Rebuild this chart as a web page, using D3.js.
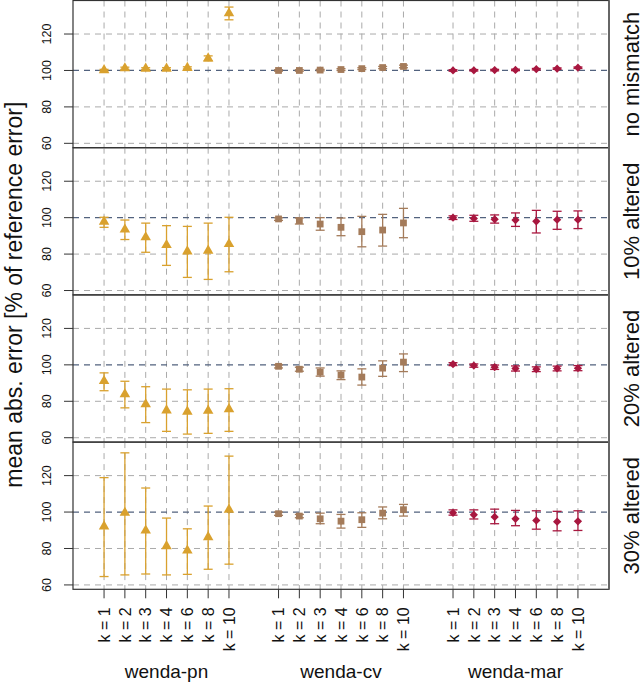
<!DOCTYPE html>
<html>
<head>
<meta charset="utf-8">
<script src="https://d3js.org/d3.v7.min.js"></script>
<style>
  body { margin: 0; background: #fff; }
  text { font-family: "Liberation Sans", Arial, Helvetica, sans-serif; fill: #111; }
</style>
</head>
<body>
<script>
// ---- values (one row per panel, one entry per k) ----
var methods = ["wenda-pn", "wenda-cv", "wenda-mar"]
var kLabels = ["k = 1", "k = 2", "k = 3", "k = 4", "k = 6", "k = 8", "k = 10"]
var panels = ["no mismatch", "10% altered", "20% altered", "30% altered"]
var yTicks = [60, 80, 100, 120]

var pnMean = [[100.2, 101.2, 101, 101, 101.4, 106.6, 131.4],
              [97.8, 93.5, 89.2, 85, 81.5, 81.9, 85.5],
              [91.1, 83.9, 78.4, 75, 74.3, 74.8, 75.7],
              [92.1, 99.6, 89.9, 81.3, 78.9, 86.2, 101.3]]
var pnLo = [[99.8, 100.6, 100.5, 100.5, 100.8, 105.3, 127.8],
            [94.7, 88, 81, 73.8, 67.2, 66.1, 70.3],
            [85.8, 76.4, 68.3, 63.5, 62, 62.4, 63.5],
            [64.6, 65.5, 66, 65.5, 65.8, 68.6, 71.4]]
var pnHi = [[100.6, 101.8, 101.5, 101.5, 102, 108, 134.8],
            [100.2, 98.7, 97, 95.6, 95.2, 97, 100.2],
            [95.6, 91, 88, 86.7, 86.3, 86.7, 86.9],
            [118.9, 132.5, 113.2, 96.7, 90.8, 103.3, 130.7]]

var cvMean = [[100, 100, 100.2, 100.5, 101, 101.6, 102.2],
              [99.3, 98.4, 96.5, 94.7, 92.3, 93.2, 97.1],
              [99.2, 97.6, 96, 94.4, 93.3, 98.2, 101.5],
              [99.1, 97.8, 96.3, 95, 95.8, 99.4, 101.3]]
var cvLo = [[99.6, 99.6, 99.8, 100, 100.5, 101, 101.5],
            [98.5, 96.5, 93.1, 90.1, 84, 84.4, 89],
            [98.3, 96.5, 93.8, 91.9, 88.9, 93.7, 96.3],
            [98.2, 96.9, 93.6, 91.2, 91.6, 96.3, 97.8]]
var cvHi = [[100.4, 100.4, 100.6, 101, 101.5, 102.2, 102.9],
            [100, 99.8, 100, 99.8, 100.7, 101.8, 105.1],
            [100, 98.7, 98.3, 96.7, 97.8, 102.2, 106],
            [100, 98.7, 99.4, 98.7, 99.6, 102.8, 104.2]]

var marMean = [[100, 100.1, 100.2, 100.3, 100.7, 101, 101.5],
               [100, 99.6, 99.1, 98.7, 98, 98.9, 98.9],
               [100.4, 99.6, 98.7, 98, 97.6, 98, 98.2],
               [99.6, 98.5, 97.3, 96.3, 95.4, 94.7, 94.9]]
var marLo = [[99.6, 99.7, 99.8, 99.9, 100.3, 100.6, 101.1],
             [99, 98, 97, 95.2, 91.6, 93.6, 94],
             [99.6, 98.7, 97.5, 96.6, 96.3, 96.7, 96.8],
             [98.3, 96.2, 93.6, 92.5, 90.6, 89.7, 89.9]]
var marHi = [[100.4, 100.5, 100.6, 100.7, 101.1, 101.4, 101.9],
             [101, 101.3, 101.5, 102.6, 104, 103.5, 103.7],
             [101.2, 100.5, 99.9, 99.4, 98.9, 99.3, 99.6],
             [101.2, 101.2, 101.6, 100.9, 100.7, 100.4, 100.7]]

var series = [
  {method: "wenda-pn", mean: pnMean, lo: pnLo, hi: pnHi, color: "#D9A12E", shape: "triangle"},
  {method: "wenda-cv", mean: cvMean, lo: cvLo, hi: cvHi, color: "#A47B5A", shape: "square"},
  {method: "wenda-mar", mean: marMean, lo: marLo, hi: marHi, color: "#A8173F", shape: "diamond"}
]

// ---- layout ----
var W = 643, H = 684
var plotL = 73, plotR = 609, plotT = 0.5, ph = 147.2
var capW = 4.5

var svg = d3.select("body").append("svg")
  .attr("width", W).attr("height", H)

var xGroup = d3.scaleBand().domain(methods).range([plotL, plotR])
  .paddingInner(0).paddingOuter(0.036)
var xK = d3.scalePoint().domain(kLabels).range([0, xGroup.bandwidth()]).padding(1.19)
function xpos(m, k) { return xGroup(m) + xK(k) }

var symbols = {
  triangle: d3.symbol().type(d3.symbolTriangle).size(48),
  square: d3.symbol().type(d3.symbolSquare).size(46),
  diamond: d3.symbol().type(d3.symbolSquare).size(34)
}

panels.forEach(function(name, pi) {
  var y0 = plotT + pi * ph, y1 = y0 + ph
  var y = d3.scaleLinear().domain([57.6, 138.4]).range([y1, y0])
  var g = svg.append("g")

  // vertical dashed grid
  methods.forEach(function(m) {
    kLabels.forEach(function(k) {
      g.append("line")
        .attr("x1", xpos(m, k)).attr("x2", xpos(m, k))
        .attr("y1", y0).attr("y2", y1)
        .attr("stroke", "#aaa").attr("stroke-width", 1)
        .attr("stroke-dasharray", "6,5")
    })
  })
  // horizontal grid + reference line at 100
  yTicks.forEach(function(t) {
    g.append("line")
      .attr("x1", plotL).attr("x2", plotR)
      .attr("y1", y(t)).attr("y2", y(t))
      .attr("stroke", t == 100 ? "#52627e" : "#aaa")
      .attr("stroke-width", t == 100 ? 1.3 : 1)
      .attr("stroke-dasharray", "6,5")
  })

  // y axis ticks and labels
  g.selectAll(".yt").data(yTicks).enter().append("line")
    .attr("x1", plotL - 9).attr("x2", plotL)
    .attr("y1", function(d) { return y(d) }).attr("y2", function(d) { return y(d) })
    .attr("stroke", "#333")
  g.selectAll(".yl").data(yTicks).enter().append("text")
    .attr("transform", function(d) { return "translate(46," + y(d) + ") rotate(-90)" })
    .attr("text-anchor", "middle").attr("dy", "0.36em")
    .style("font-size", "12.5px")
    .text(function(d) { return d })

  // error bars and markers
  series.forEach(function(s) {
    var pts = kLabels.map(function(k, i) {
      return {x: xpos(s.method, k), m: s.mean[pi][i], lo: s.lo[pi][i], hi: s.hi[pi][i]}
    })
    var eb = g.append("g").attr("stroke", s.color).attr("stroke-width", 1.3).attr("fill", "none")
    pts.forEach(function(p) {
      eb.append("line").attr("x1", p.x).attr("x2", p.x).attr("y1", y(p.lo)).attr("y2", y(p.hi))
      eb.append("line").attr("x1", p.x - capW).attr("x2", p.x + capW).attr("y1", y(p.lo)).attr("y2", y(p.lo))
      eb.append("line").attr("x1", p.x - capW).attr("x2", p.x + capW).attr("y1", y(p.hi)).attr("y2", y(p.hi))
    })
    g.selectAll(null).data(pts).enter().append("path")
      .attr("d", symbols[s.shape])
      .attr("transform", function(p) {
        return "translate(" + p.x + "," + y(p.m) + ")" + (s.shape == "diamond" ? " rotate(45)" : "")
      })
      .attr("fill", s.color)
  })

  // panel frame
  g.append("rect")
    .attr("x", plotL).attr("y", y0).attr("width", plotR - plotL).attr("height", ph)
    .attr("fill", "none").attr("stroke", "#333").attr("stroke-width", 1.2)

  // strip label on the right
  g.append("text")
    .attr("transform", "translate(638.5," + (y0 + ph / 2) + ") rotate(-90)")
    .attr("text-anchor", "middle")
    .style("font-size", "22px")
    .text(name)
})

// outer right border looks heavier
svg.append("line").attr("x1", plotR).attr("x2", plotR)
  .attr("y1", plotT).attr("y2", plotT + 4 * ph)
  .attr("stroke", "#666").attr("stroke-width", 2)

// x axis ticks and labels
var bottom = plotT + 4 * ph
methods.forEach(function(m) {
  kLabels.forEach(function(k) {
    svg.append("line")
      .attr("x1", xpos(m, k)).attr("x2", xpos(m, k))
      .attr("y1", bottom).attr("y2", bottom + 9)
      .attr("stroke", "#333")
    svg.append("text")
      .attr("transform", "translate(" + xpos(m, k) + "," + (bottom + 18) + ") rotate(-90)")
      .attr("text-anchor", "end").attr("dy", "0.36em")
      .style("font-size", "16px")
      .text(k)
  })
  svg.append("text")
    .attr("x", xGroup(m) + xGroup.bandwidth() / 2).attr("y", 678)
    .attr("text-anchor", "middle")
    .style("font-size", "19px")
    .text(m)
})

// y axis title
svg.append("text")
  .attr("transform", "translate(21.5," + (bottom / 2) + ") rotate(-90)")
  .attr("text-anchor", "middle")
  .style("font-size", "23px")
  .text("mean abs. error [% of reference error]")
</script>
</body>
</html>
